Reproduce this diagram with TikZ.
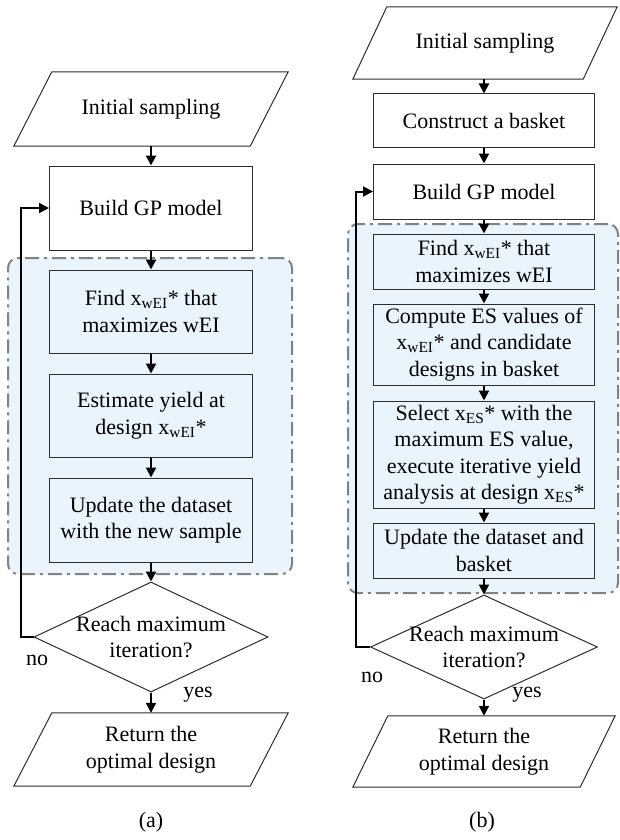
\documentclass[tikz,border=0pt]{standalone}
\usepackage{fontspec}
\setmainfont{Liberation Serif}
\usetikzlibrary{shapes.geometric,arrows.meta}
\definecolor{regionblue}{RGB}{233,244,252}
\definecolor{regiongray}{RGB}{130,130,130}
\definecolor{boxline}{RGB}{45,45,45}
\tikzset{
  txt/.style={font=\fontsize{22}{26.5}\selectfont, align=center},
  procbox/.style={txt, draw=boxline, line width=1pt, fill=white, inner sep=0pt},
  inbox/.style={procbox, fill=regionblue},
  ghost/.style={txt, inner sep=0pt},
  region/.style={draw=regiongray, fill=regionblue, line width=2pt, rounded corners=10pt,
    dash pattern=on 14pt off 5pt on 3pt off 5pt},
  flow/.style={draw=black, line width=2pt, -{Triangle[width=10pt,length=10pt]}},
  decision/.style={draw=boxline, line width=1pt, diamond, inner sep=0pt, fill=white},
  lbl/.style={font=\fontsize{22}{26}\selectfont, inner sep=0pt},
  paraline/.style={draw=boxline, line width=1pt, fill=white}
}
\newcommand{\drawpara}[2]{%
  \path[paraline] ([xshift=#2]#1.north west) -- (#1.north east)
    -- ([xshift=-#2]#1.south east) -- (#1.south west) -- cycle;}
\begin{document}
\begin{tikzpicture}[x=1pt,y=-1pt]
\useasboundingbox (0,0) rectangle (619,840);

% ---------------- (a) ----------------
\node[region, minimum width=284pt, minimum height=316pt, inner sep=0pt] (reg_a) at (150,416) {};

\node[ghost, minimum width=274pt, minimum height=74pt] (init_a) at (151,109) {};
\drawpara{init_a}{38pt}
\node[ghost] (init_a_t) at (init_a) {Initial sampling};

\node[procbox, minimum width=203pt, minimum height=84pt] (gp_a) at (151,208) {Build GP model};
\node[inbox, minimum width=203pt, minimum height=83pt] (find_a) at (151,311.5) {Find x\textsubscript{wEI}* that\\maximizes wEI};
\node[inbox, minimum width=203pt, minimum height=83pt] (est_a) at (151,415.5) {Estimate yield at\\design x\textsubscript{wEI}*};
\node[inbox, minimum width=203pt, minimum height=84pt] (upd_a) at (151,520) {Update the dataset\\with the new sample};

\node[decision, minimum width=234pt, minimum height=110pt] (dia_a) at (151,637) {};
\node[ghost] (dia_a_t) at (dia_a) {Reach maximum\\iteration?};

\node[ghost, minimum width=274pt, minimum height=73pt] (ret_a) at (151,749.5) {};
\drawpara{ret_a}{38pt}
\node[ghost] (ret_a_t) at (ret_a) {Return the\\optimal design};

\coordinate (loop_a) at (21,637);
\draw[flow] (init_a.south) -- (gp_a.north);
\draw[flow] (gp_a.south) -- (find_a.north);
\draw[flow] (find_a.south) -- (est_a.north);
\draw[flow] (est_a.south) -- (upd_a.north);
\draw[flow] (upd_a.south) -- (dia_a.north);
\draw[flow] (dia_a.south) -- (ret_a.north);
\draw[flow] (dia_a.west) -- (loop_a) |- (gp_a.west);

\node[lbl] (no_a) at (37,660) {no};
\node[lbl] (yes_a) at (198,695) {yes};
\node[lbl] (cap_a) at (151,822) {(a)};

% ---------------- (b) ----------------
\node[region, minimum width=270pt, minimum height=369pt, inner sep=0pt] (reg_b) at (483,408.5) {};

\node[ghost, minimum width=264pt, minimum height=72pt] (init_b) at (485,43) {};
\drawpara{init_b}{34pt}
\node[ghost] (init_b_t) at (485,43) {Initial sampling};

\node[procbox, minimum width=221pt, minimum height=53pt] (cons_b) at (484,120.5) {Construct a basket};
\node[procbox, minimum width=221pt, minimum height=55pt] (gp_b) at (484,191.5) {Build GP model};
\node[inbox, minimum width=221pt, minimum height=55pt] (find_b) at (484,261.5) {Find x\textsubscript{wEI}* that\\maximizes wEI};
\node[inbox, minimum width=221pt, minimum height=81pt] (comp_b) at (484,344.5) {Compute ES values of\\x\textsubscript{wEI}* and candidate\\designs in basket};
\node[inbox, minimum width=221pt, minimum height=107pt] (sel_b) at (484,454.5) {Select x\textsubscript{ES}* with the\\maximum ES value,\\execute iterative yield\\analysis at design x\textsubscript{ES}*};
\node[inbox, minimum width=221pt, minimum height=55pt] (upd_b) at (484,550.5) {Update the dataset and\\basket};

\node[decision, minimum width=227pt, minimum height=104pt] (dia_b) at (484,647) {};
\node[ghost] (dia_b_t) at (dia_b) {Reach maximum\\iteration?};

\node[ghost, minimum width=262pt, minimum height=71pt] (ret_b) at (484,751.5) {};
\drawpara{ret_b}{35pt}
\node[ghost] (ret_b_t) at (ret_b) {Return the\\optimal design};

\coordinate (loop_b) at (356,647);
\draw[flow] (init_b.south -| cons_b.north) -- (cons_b.north);
\draw[flow] (cons_b.south) -- (gp_b.north);
\draw[flow] (gp_b.south) -- (find_b.north);
\draw[flow] (find_b.south) -- (comp_b.north);
\draw[flow] (comp_b.south) -- (sel_b.north);
\draw[flow] (sel_b.south) -- (upd_b.north);
\draw[flow] (upd_b.south) -- (dia_b.north);
\draw[flow] (dia_b.south) -- (ret_b.north);
\draw[flow] (dia_b.west) -- (loop_b) |- (gp_b.west);

\node[lbl] (no_b) at (372,677) {no};
\node[lbl] (yes_b) at (527,695) {yes};
\node[lbl] (cap_b) at (482,822) {(b)};
\end{tikzpicture}
\end{document}
